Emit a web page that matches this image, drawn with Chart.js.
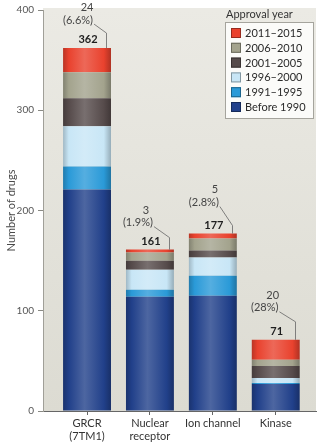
<!DOCTYPE html>
<html>
<head>
<meta charset="utf-8">
<script src="https://cdn.jsdelivr.net/npm/chart.js@4.4.1/dist/chart.umd.min.js"></script>
<style>
  html, body { margin: 0; padding: 0; background: #fff; }
  canvas { display: block; }
</style>
</head>
<body>
<canvas id="drugChart" width="322" height="446"></canvas>
<script>
// Drug targets by class, split by approval period
const targetClasses = [['GRCR', '(7TM1)'], ['Nuclear', 'receptor'], 'Ion channel', 'Kinase'];
const periods = ['2011–2015', '2006–2010', '2001–2005', '1996–2000', '1991–1995', 'Before 1990'];
const approvals2011to2015 = [24, 3, 5, 20];
const approvals2006to2010 = [26, 8, 12, 6];
const approvals2001to2005 = [28, 9, 7, 12];
const approvals1996to2000 = [40, 20, 18, 5];
const approvals1991to1995 = [23, 7, 20, 1];
const approvalsBefore1990 = [221, 114, 115, 27];
const yTicks = [0, 100, 200, 300, 400];

const periodColors = ['#e9422e', '#a3a38d', '#564b4b', '#c8e6f6', '#2a9ad8', '#21408a'];
const FONT = 'Lato';
const BAR_FRACTION = 0.762;

// text offsets for the "new drugs" callouts, relative to bar centre / bar top
const calloutLayout = [
    { num: [0, -41], pct: [-9, -28], elbow: 15 },
    { num: [-4, -39], pct: [-12, -27], elbow: 12 },
    { num: [2, -44], pct: [-9, -31], elbow: 8 },
    { num: [-3, -44], pct: [-11, -32], elbow: 18 }
];

function shade(hex, amt) {
    const n = parseInt(hex.slice(1), 16);
    let r = n >> 16, g = (n >> 8) & 255, b = n & 255;
    const t = amt > 0 ? 255 : 0, p = Math.abs(amt);
    r = Math.round(r + (t - r) * p);
    g = Math.round(g + (t - g) * p);
    b = Math.round(b + (t - b) * p);
    return `rgb(${r},${g},${b})`;
}

// rounded "tube" look for each bar segment
function barFill(base) {
    return function(context) {
        const chart = context.chart;
        const xs = chart.scales.x;
        if (!chart.chartArea || !xs || !context.raw) return base;
        const cx = xs.getPixelForValue(context.raw.x);
        const half = (xs.getPixelForValue(1) - xs.getPixelForValue(0)) * BAR_FRACTION / 2;
        const g = chart.ctx.createLinearGradient(cx - half, 0, cx + half, 0);
        g.addColorStop(0, shade(base, -0.2));
        g.addColorStop(0.12, base);
        g.addColorStop(0.45, shade(base, 0.2));
        g.addColorStop(0.85, base);
        g.addColorStop(1, shade(base, -0.25));
        return g;
    };
}

// newest period first, matching the legend order
const periodSeries = [approvals2011to2015, approvals2006to2010, approvals2001to2005,
                      approvals1996to2000, approvals1991to1995, approvalsBefore1990];

const datasets = periods.map((label, k) => ({
    label: label,
    data: periodSeries[k].map((v, i) => ({ x: i, y: v })),
    baseColor: periodColors[k],
    backgroundColor: barFill(periodColors[k]),
    borderWidth: 0,
    barPercentage: BAR_FRACTION,
    categoryPercentage: 1
})).reverse(); // stack from the oldest period upward

const plotBackground = {
    id: 'plotBackground',
    beforeDraw(chart) {
        const { ctx, chartArea: a } = chart;
        const g = ctx.createLinearGradient(0, a.top, 0, a.bottom);
        g.addColorStop(0, '#ebeae4');
        g.addColorStop(1, '#dcdbd2');
        ctx.save();
        ctx.fillStyle = g;
        ctx.fillRect(a.left, a.top - 2, a.right - a.left, a.bottom - a.top + 2);
        ctx.restore();
    }
};

const legendBox = {
    id: 'legendBox',
    afterDraw(chart) {
        const ctx = chart.ctx;
        const items = chart.data.datasets.slice().reverse();
        const x0 = 225, y0 = 22, w = 88, h = 96;
        ctx.save();
        ctx.font = `11px ${FONT}`;
        ctx.fillStyle = '#333';
        ctx.textBaseline = 'middle';
        ctx.textAlign = 'left';
        ctx.fillText('Approval year', 226, 14);
        ctx.fillStyle = '#fbfbf9';
        ctx.fillRect(x0, y0, w, h);
        ctx.strokeStyle = '#a5a49d';
        ctx.lineWidth = 1;
        ctx.strokeRect(x0 + 0.5, y0 + 0.5, w, h);
        items.forEach((d, k) => {
            const cy = 33 + k * 14.8;
            ctx.fillStyle = d.baseColor;
            ctx.fillRect(231, cy - 5, 10, 10);
            ctx.strokeStyle = shade(d.baseColor, -0.35);
            ctx.strokeRect(231.5, cy - 4.5, 9, 9);
            ctx.fillStyle = '#2a2a2a';
            ctx.fillText(d.label, 245, cy + 0.5);
        });
        ctx.restore();
    }
};

const callouts = {
    id: 'callouts',
    afterDatasetsDraw(chart) {
        const { ctx, scales: { x, y } } = chart;
        const half = (x.getPixelForValue(1) - x.getPixelForValue(0)) * BAR_FRACTION / 2;
        ctx.save();
        ctx.textAlign = 'center';
        ctx.textBaseline = 'middle';
        targetClasses.forEach((_, i) => {
            const total = chart.data.datasets.reduce((s, d) => s + d.data[i].y, 0);
            const recent = approvals2011to2015[i];
            const share = recent / total * 100;
            const pctText = '(' + (share >= 10 ? share.toFixed(0) : share.toFixed(1)) + '%)';
            const cx = x.getPixelForValue(i);
            const top = y.getPixelForValue(total);
            const L = calloutLayout[i];

            ctx.font = `bold 11px ${FONT}`;
            ctx.fillStyle = '#1e1e1e';
            ctx.fillText(String(total), cx + 1, top - 8.5);

            ctx.font = `11px ${FONT}`;
            ctx.fillStyle = '#444';
            ctx.fillText(String(recent), cx + L.num[0], top + L.num[1]);
            ctx.fillText(pctText, cx + L.pct[0], top + L.pct[1]);

            const tw = ctx.measureText(pctText).width;
            const lx = Math.round(cx + half - 5) + 0.5;
            ctx.strokeStyle = '#666';
            ctx.lineWidth = 0.8;
            ctx.beginPath();
            ctx.moveTo(cx + L.pct[0] + tw / 2 + 1, top + L.pct[1] + 4);
            ctx.lineTo(lx, top - L.elbow);
            ctx.lineTo(lx, top);
            ctx.stroke();
        });
        ctx.restore();
    }
};

new Chart(document.getElementById('drugChart'), {
    type: 'bar',
    data: { datasets: datasets },
    options: {
        responsive: false,
        animation: false,
        layout: { padding: { top: 7, right: 6, left: 0, bottom: 0 } },
        plugins: {
            legend: { display: false },
            tooltip: { enabled: false }
        },
        scales: {
            x: {
                type: 'linear',
                stacked: true,
                offset: false,
                min: -0.7,
                max: 3.64,
                afterBuildTicks: s => { s.ticks = targetClasses.map((_, i) => ({ value: i })); },
                afterFit: s => { s.height = 35; },
                grid: { offset: false, drawOnChartArea: false, tickLength: 4, color: '#666' },
                border: { color: '#666' },
                ticks: {
                    callback: v => targetClasses[v],
                    font: { family: FONT, size: 11 },
                    color: '#333',
                    padding: 2,
                    maxRotation: 0,
                    autoSkip: false
                }
            },
            y: {
                stacked: true,
                min: 0,
                max: 400,
                afterBuildTicks: s => { s.ticks = yTicks.map(v => ({ value: v })); },
                afterFit: s => { s.width = 43; },
                grid: { drawOnChartArea: false, tickLength: 5, color: '#8a8a84' },
                border: { color: '#a09f98' },
                title: {
                    display: true,
                    text: 'Number of drugs',
                    font: { family: FONT, size: 11 },
                    color: '#4a4a4a',
                    padding: { top: 5, bottom: 0 }
                },
                ticks: { padding: 4, font: { family: FONT, size: 10 }, color: '#555' }
            }
        }
    },
    plugins: [plotBackground, callouts, legendBox]
});
</script>
</body>
</html>
